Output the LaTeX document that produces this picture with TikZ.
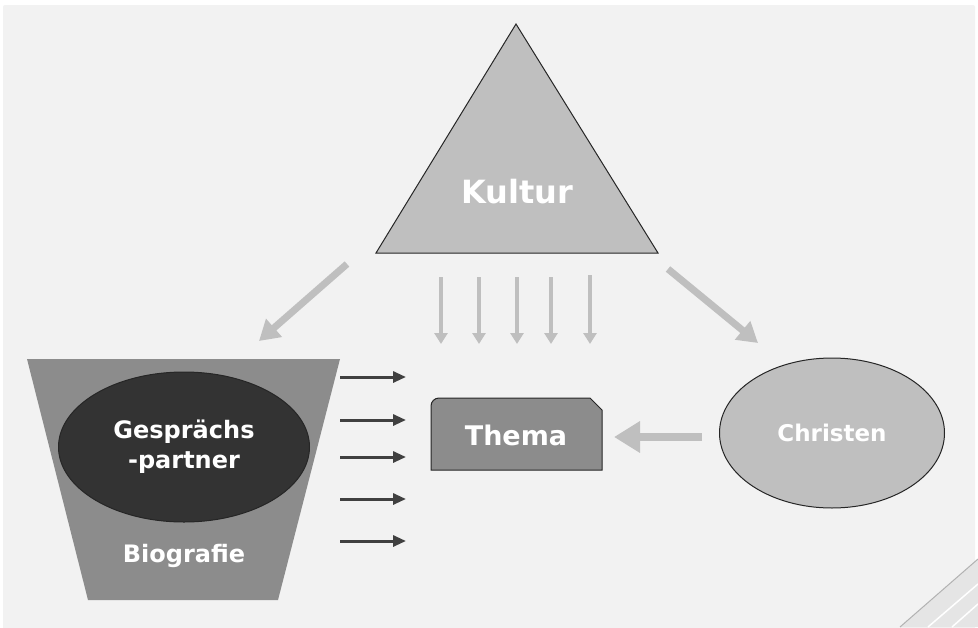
\documentclass[tikz,border=0pt]{standalone}
\usepackage{fontspec}
\setmainfont{DejaVu Sans}
\usetikzlibrary{arrows.meta,shapes.geometric}
\definecolor{bgg}{HTML}{F2F2F2}
\definecolor{lg}{HTML}{BFBFBF}
\definecolor{mg}{HTML}{8C8C8C}
\definecolor{dg}{HTML}{333333}
\definecolor{ag}{HTML}{404040}
\tikzset{
  lbl/.style={text=white,font=\bfseries,inner sep=0pt,align=center},
  blackarr/.style={draw=ag,line width=3,-{Triangle[length=13,width=11]}},
  downarr/.style={draw=lg,line width=4,-{Triangle[length=11,width=13]}},
  diagarr/.style={draw=lg,line width=7,-{Triangle[length=20,width=23]}},
  sidearr/.style={draw=lg,line width=8,-{Triangle[length=26,width=30]}},
  outl/.style={draw=black!85,line width=1}
}
\begin{document}
\begin{tikzpicture}[x=1pt,y=-1pt]
\useasboundingbox (0,0) rectangle (978,627);
\fill[white] (0,0) rectangle (978,627);
\fill[bgg,rounded corners=2] (3,5) rectangle (975,640);
% decoration bottom right
\fill[black!10] (900,627) -- (978,559) -- (978,627) -- cycle;
\draw[black!30,line width=1] (900,627) -- (978,559);
\draw[white,line width=1.5] (928,627) -- (978,584);
\draw[white,line width=1.5] (952,627) -- (978,604);
% triangle
\draw[outl,fill=lg] (516,24) -- (658,253) -- (376,253) -- cycle;
\node[lbl,font=\bfseries\fontsize{32}{36}\selectfont] (kultur) at (517,192) {Kultur};
% trapezoid
\fill[mg] (27,359) -- (340,359) -- (278,600) -- (88,600) -- cycle;
\coordinate (trap) at (184,480);
\node[ellipse,outl,fill=dg,minimum width=251,minimum height=150,inner sep=0pt] (gp) at (184,447) {};
\node[lbl,font=\bfseries\fontsize{24}{30}\selectfont] at (gp) {Gesprächs\\-partner};
\node[lbl,font=\bfseries\fontsize{24}{28}\selectfont] (bio) at (184,556) {Biografie};
% Thema
\draw[outl,fill=mg,rounded corners=0] (431,470) -- (431,406) [rounded corners=8] -- (431,398) [rounded corners=0] -- (590,398) -- (602,410) -- (602,470) -- cycle;
\node[lbl,font=\bfseries\fontsize{27}{30}\selectfont] (thema) at (516,435) {Thema};
% Christen
\node[ellipse,outl,fill=lg,minimum width=225,minimum height=150,inner sep=0pt] (chr) at (832,433) {};
\node[lbl,font=\bfseries\fontsize{23}{28}\selectfont] at (chr) {Christen};
% black arrows
\foreach \y [count=\i] in {377,420,457,499,541}{
  \coordinate (bs\i) at (340,\y);
  \coordinate (be\i) at (406,\y);
  \draw[blackarr] (bs\i) -- (be\i);
}
% gray down arrows
\foreach \x/\ys [count=\i] in {441/277,479/277,517/277,551/277,590/275}{
  \coordinate (ds\i) at (\x,\ys);
  \coordinate (de\i) at (\x,344);
  \draw[downarr] (ds\i) -- (de\i);
}
% diagonal arrows
\coordinate (dl1) at (347,264); \coordinate (dl2) at (259,341);
\coordinate (dr1) at (668,269); \coordinate (dr2) at (758,343);
\draw[diagarr] (dl1) -- (dl2);
\draw[diagarr] (dr1) -- (dr2);
% side arrow
\coordinate (sa1) at (702,437); \coordinate (sa2) at (614,437);
\draw[sidearr] (sa1) -- (sa2);
\end{tikzpicture}
\end{document}
